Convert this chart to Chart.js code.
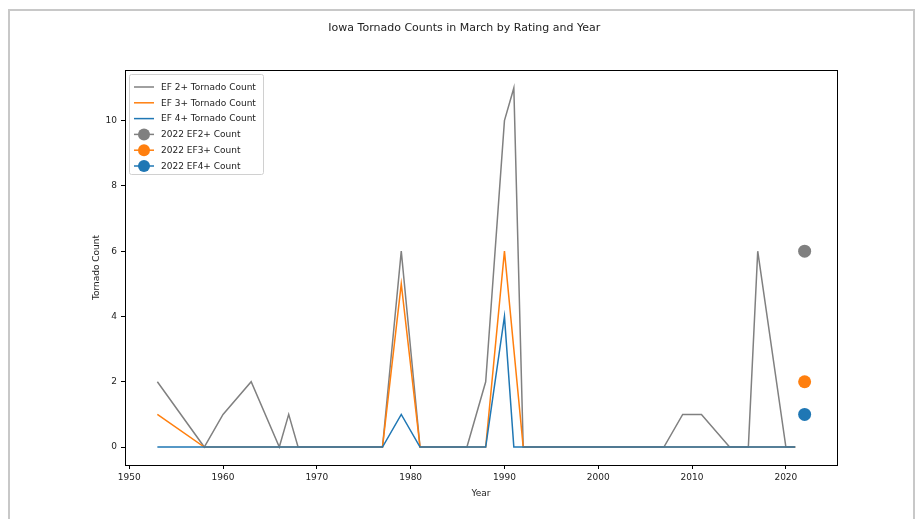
<!DOCTYPE html>
<html>
<head>
<meta charset="utf-8">
<script src="https://cdn.jsdelivr.net/npm/chart.js@4"></script>
<style>
body { margin: 0; background: #fff; }
#wrap { position: absolute; left: 0; top: 0; width: 916px; height: 519px; }
#frame { position: absolute; left: 8px; top: 9px; width: 903px; height: 530px; border: 2px solid #c8c8c8; border-bottom: none; pointer-events: none; }
</style>
</head>
<body>
<div id="wrap"><canvas id="tornadoChart" width="916" height="519"></canvas></div>
<div id="frame"></div>
<script>
// years that appear in the March data
const years = [1953, 1958, 1960, 1963, 1966, 1967, 1968, 1977, 1979, 1981, 1986, 1988, 1990, 1991, 1992, 2007, 2009, 2010, 2011, 2014, 2016, 2017, 2020, 2021];
const ef2Counts = [2, 0, 1, 2, 0, 1, 0, 0, 6, 0, 0, 2, 10, 11, 0, 0, 1, 1, 1, 0, 0, 6, 0, 0];
const ef3Counts = [1, 0, 0, 0, 0, 0, 0, 0, 5, 0, 0, 0, 6, 3, 0, 0, 0, 0, 0, 0, 0, 0, 0, 0];
const ef4Counts = [0, 0, 0, 0, 0, 0, 0, 0, 1, 0, 0, 0, 4, 0, 0, 0, 0, 0, 0, 0, 0, 0, 0, 0];

// 2022 single points
const year2022 = 2022;
const counts2022 = [6, 2, 1]; // EF2+, EF3+, EF4+

const xTicks = [1950, 1960, 1970, 1980, 1990, 2000, 2010, 2020];
const yTicks = [0, 2, 4, 6, 8, 10];

const GREY = '#808080', ORANGE = '#ff7f0e', BLUE = '#1f77b4';
const FONT = 'DejaVu Sans';

const toPoints = (vals) => years.map((y, i) => ({ x: y, y: vals[i] }));

function lineSet(label, vals, color, order) {
    return { label, data: toPoints(vals), borderColor: color, backgroundColor: color,
             borderWidth: 1.5, pointRadius: 0, tension: 0, order };
}
function pointSet(label, val, color) {
    return { label, data: [{ x: year2022, y: val }], borderColor: color, backgroundColor: color,
             showLine: false, pointRadius: 6.5, pointBorderWidth: 0, isMarker: true, order: 0 };
}

// full box around the plot area + legend in the upper left
const boxAndLegend = {
    id: 'boxAndLegend',
    afterDatasetsDraw(chart) {
        const { ctx, chartArea: a } = chart;
        ctx.save();
        ctx.strokeStyle = '#000';
        ctx.lineWidth = 1;
        ctx.strokeRect(a.left + 0.5, a.top + 0.5, a.right - a.left, a.bottom - a.top);

        const bx = a.left + 4, by = a.top + 4, bw = 134, bh = 100;
        ctx.fillStyle = 'rgba(255,255,255,0.85)';
        ctx.strokeStyle = '#d0d0d0';
        ctx.beginPath();
        ctx.roundRect(bx + 0.5, by + 0.5, bw, bh, 2);
        ctx.fill();
        ctx.stroke();

        ctx.font = '9px "' + FONT + '"';
        ctx.textBaseline = 'middle';
        chart.data.datasets.forEach((ds, i) => {
            const yy = by + 13 + i * 15.8;
            ctx.strokeStyle = ds.borderColor;
            ctx.lineWidth = 1.5;
            ctx.beginPath();
            ctx.moveTo(bx + 5, yy);
            ctx.lineTo(bx + 25, yy);
            ctx.stroke();
            if (ds.isMarker) {
                ctx.fillStyle = ds.backgroundColor;
                ctx.beginPath();
                ctx.arc(bx + 15, yy, 6, 0, Math.PI * 2);
                ctx.fill();
            }
            ctx.fillStyle = '#222';
            ctx.fillText(ds.label, bx + 32, yy + 0.5);
        });
        ctx.restore();
    }
};

const ctx = document.getElementById('tornadoChart').getContext('2d');
new Chart(ctx, {
    type: 'line',
    data: {
        datasets: [
            lineSet('EF 2+ Tornado Count', ef2Counts, GREY, 3),
            lineSet('EF 3+ Tornado Count', ef3Counts, ORANGE, 2),
            lineSet('EF 4+ Tornado Count', ef4Counts, BLUE, 1),
            pointSet('2022 EF2+ Count', counts2022[0], GREY),
            pointSet('2022 EF3+ Count', counts2022[1], ORANGE),
            pointSet('2022 EF4+ Count', counts2022[2], BLUE),
        ],
    },
    options: {
        responsive: false,
        animation: false,
        layout: { padding: { left: 91.6, right: 79, top: 0, bottom: 19.6 } },
        plugins: {
            legend: { display: false },
            tooltip: { enabled: false },
            title: {
                display: true,
                text: 'Iowa Tornado Counts in March by Rating and Year',
                color: '#222',
                font: { family: FONT, size: 11, weight: 'normal' },
                padding: { top: 21.4, bottom: 35.4 },
            },
        },
        scales: {
            x: {
                type: 'linear',
                min: 1949.55,
                max: 2025.45,
                afterBuildTicks: (s) => { s.ticks = xTicks.map(v => ({ value: v })); },
                afterFit: (s) => { s.height = 34.4; },
                grid: { drawOnChartArea: false, tickLength: 4, tickColor: '#000' },
                border: { color: '#000', width: 1 },
                ticks: { color: '#222', font: { family: FONT, size: 9 }, padding: 3, maxRotation: 0,
                         callback: (v) => String(v) },
                title: { display: true, text: 'Year', color: '#222', padding: 0,
                         font: { family: FONT, size: 9 } },
            },
            y: {
                min: -0.55,
                max: 11.55,
                afterBuildTicks: (s) => { s.ticks = yTicks.map(v => ({ value: v })); },
                afterFit: (s) => { s.width = 33.4; },
                grid: { drawOnChartArea: false, tickLength: 4, tickColor: '#000' },
                border: { color: '#000', width: 1 },
                ticks: { color: '#222', font: { family: FONT, size: 9 }, padding: 4 },
                title: { display: true, text: 'Tornado Count', color: '#222', padding: 0,
                         font: { family: FONT, size: 9 } },
            },
        },
    },
    plugins: [boxAndLegend],
});
</script>
</body>
</html>
